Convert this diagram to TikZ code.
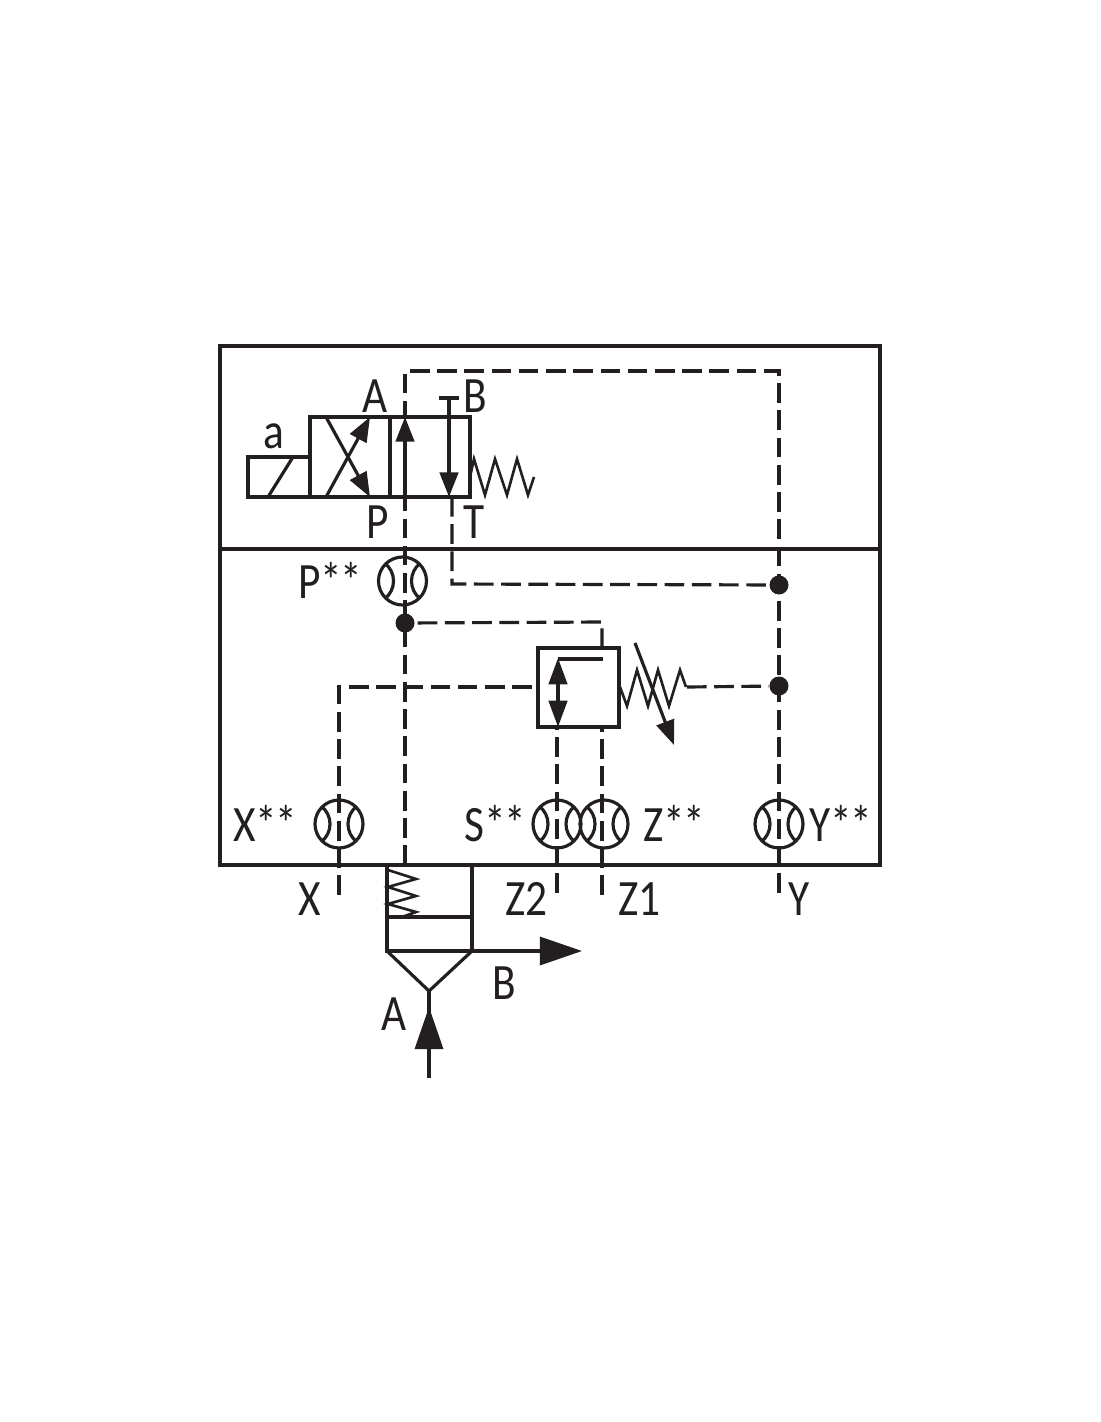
\documentclass[tikz,border=0pt]{standalone}
\usepackage{fontspec}
\setmainfont{Carlito}[FakeStretch=0.85]
\usetikzlibrary{arrows.meta}
\definecolor{ink}{HTML}{231F20}
\def\unitpx{0.02cm}
\def\stars{*\kern-1pt*}
\tikzset{
  x=\unitpx, y=-\unitpx,
  line/.style={draw=ink,line width=1.8pt},
  box/.style={line,rectangle,inner sep=0pt,outer sep=0pt},
  pilot/.style={line,dash pattern=on 11.2pt off 4.3pt},
  spring/.style={draw=ink,line width=1.5pt},
  head/.style={-{Triangle[length=14pt,width=10.5pt,fill=ink]}},
  bighead/.style={-{Triangle[length=24pt,width=16pt,fill=ink]}},
  dot/.style={circle,fill=ink,inner sep=0pt,minimum size=19*\unitpx},
  tag/.style={anchor=base west,inner sep=0pt,text=ink,font=\fontsize{29}{29}\selectfont},
  gauge/.style={circle,line,inner sep=0pt,minimum size=48*\unitpx,
    path picture={
      \draw[line,shift={(path picture bounding box.center)}]
        (-18,-18) .. controls (-6,-9) and (-6,9) .. (-18,18)
        (18,-18) .. controls (6,-9) and (6,9) .. (18,18);
    }},
}
\begin{document}
\begin{tikzpicture}
\useasboundingbox (0,0) rectangle (1100,1422);

% Housing
\node[box,minimum width=660*\unitpx,minimum height=203*\unitpx] (upper) at (550,447.5) {};
\node[box,minimum width=660*\unitpx,minimum height=316*\unitpx] (lower) at (550,707) {};

% Pilot valve
\node[box,minimum width=62*\unitpx,minimum height=40*\unitpx] (solenoid) at (279,477) {};
\node[box,minimum width=80*\unitpx,minimum height=80*\unitpx] (valve-left) at (350,457) {};
\node[box,minimum width=80*\unitpx,minimum height=80*\unitpx] (valve-right) at (430,457) {};
\draw[line] (268,497) -- (293,457);
\draw[line,head] (326,417) -- (370,497);
\draw[line,head] (326,497) -- (370,417);
\draw[line,head] (405,497) -- (405,417);
\draw[line] (439,398) -- (459,398);
\draw[line,head] (449,398) -- (449,497);
\draw[spring] (470,477) -- (474,459) -- (485,495) -- (495,459) -- (507,495) -- (517,459) -- (528,495) -- (534,477);

% Relief valve
\node[box,minimum width=81*\unitpx,minimum height=79*\unitpx] (relief) at (578.5,687.5) {};
\draw[line,{Triangle[length=15pt,width=10.5pt,fill=ink]}-{Triangle[length=15pt,width=10.5pt,fill=ink]}] (558,658) -- (558,727);
\draw[line] (558,659) -- (603,659);
\draw[spring] (620,687) -- (627,706) -- (637,670) -- (648,706) -- (658,670) -- (669,706) -- (680,670) -- (686,687);
\draw[line,head] (635,643) -- (674,745);

% Main stage
\node[box,minimum width=85*\unitpx,minimum height=86*\unitpx] (piston) at (429.5,908) {};
\draw[line] (387,917) -- (472,917);
\draw[line] (387,951) -- (429,991) -- (472,951);
\draw[spring] (388,870) -- (416,879) -- (388,887) -- (416,896) -- (388,904) -- (416,912) -- (402,917);
\coordinate (b-end) at (582,951);
\coordinate (a-end) at (429,1078);
\coordinate (a-tip) at (429,991);
\draw[line,bighead] (472,951) -- (b-end);
\draw[line] (a-end) -- (a-tip);
\draw[line,bighead] (a-end) -- (429,1007);

% Gauges
\node[gauge] (p-gauge) at (402.5,581) {};
\node[gauge] (x-gauge) at (339,824) {};
\node[gauge] (s-gauge) at (557,824) {};
\node[gauge] (z-gauge) at (604,824) {};
\node[gauge] (y-gauge) at (779,824) {};

% Junctions
\node[dot] (p-dot) at (405,623) {};
\node[dot] (t-dot) at (779,585) {};
\node[dot] (y-dot) at (779,686) {};

% Pilot lines
\coordinate (p-port) at (405,497);
\coordinate (p-stop) at (405,865);
\coordinate (a-port) at (405,417);
\coordinate (top-left) at (405,371);
\coordinate (top-right) at (779,371);
\coordinate (y-end) at (779,893);
\coordinate (t-port) at (452,497);
\coordinate (t-bend) at (452,584);
\coordinate (p-bend) at (602,622);
\coordinate (relief-in) at (602,648);
\coordinate (x-bend) at (339,687);
\coordinate (x-end) at (339,895);
\coordinate (s-top) at (557,727);
\coordinate (s-end) at (557,893);
\coordinate (z-top) at (602,727);
\coordinate (z-end) at (602,895);
\coordinate (relief-out) at (687,687);
\coordinate (relief-left) at (538,687);
\draw[pilot] (y-end) -- (top-right) -- (top-left) -- (a-port);
\draw[pilot] (p-stop) -- (p-port);
\draw[pilot] (t-port) -- (t-bend) -- (t-dot);
\draw[pilot] (relief-in) -- (p-bend) -- (p-dot);
\draw[pilot] (x-end) -- (x-bend) -- (relief-left);
\draw[pilot] (s-end) -- (s-top);
\draw[pilot] (z-end) -- (z-top);
\draw[pilot] (relief-out) -- (y-dot);

% Labels
\node[tag] (lbl-a) at (263,448) {a};
\node[tag] (lbl-va) at (362,412) {A};
\node[tag] (lbl-vb) at (463,412) {B};
\node[tag] (lbl-vp) at (366,538) {P};
\node[tag] (lbl-vt) at (463,538) {T};
\node[tag] (lbl-pg) at (298,598) {P\stars};
\node[tag] (lbl-xg) at (233,841) {X\stars};
\node[tag] (lbl-sg) at (464,841) {S\stars};
\node[tag] (lbl-zg) at (643,841) {Z\stars};
\node[tag] (lbl-yg) at (809,841) {Y\stars};
\node[tag] (lbl-x) at (298,915) {X};
\node[tag] (lbl-z2) at (505,915) {Z2};
\node[tag] (lbl-z1) at (618,915) {Z1};
\node[tag] (lbl-y) at (788,915) {Y};
\node[tag] (lbl-b) at (492,999) {B};
\node[tag] (lbl-a2) at (381,1030) {A};
\end{tikzpicture}
\end{document}
